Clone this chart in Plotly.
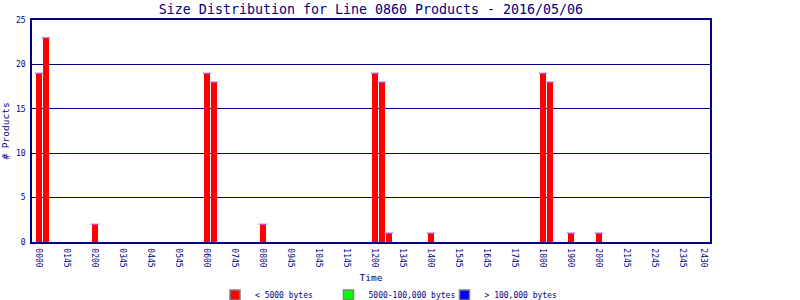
import plotly.graph_objects as go

# ---- data ----
times = ["0000", "0015", "0200", "0600", "0615", "0800", "1200", "1215", "1230",
         "1400", "1800", "1815", "1900", "2000"]
small = [19, 23, 2, 19, 18, 2, 19, 18, 1, 1, 19, 18, 1, 1]      # < 5000 bytes
medium = [0] * len(times)                                       # 5000-100,000 bytes
large = [0] * len(times)                                        # > 100,000 bytes
tick_labels = ["0000", "0145", "0200", "0345", "0445", "0545", "0600", "0745", "0800",
               "0945", "1045", "1145", "1200", "1345", "1400", "1545", "1645", "1745",
               "1800", "1900", "2000", "2145", "2245", "2345", "2430"]
series_names = ["< 5000 bytes", "5000-100,000 bytes", "> 100,000 bytes"]

# ---- derived ----
slots = [int(t[:2]) * 4 + int(t[2:]) // 15 for t in times]
totals = [a + b + c for a, b, c in zip(small, medium, large)]
tickvals = list(range(0, 96, 4)) + [95]

NAVY = "#000080"
FONT = "DejaVu Sans Mono"
L, R, T, B = 32, 90, 20, 58
W, H = 800, 300
pw, ph = W - L - R, H - T - B

fig = go.Figure()
fig.add_bar(x=slots, y=small, marker=dict(color="#ff0000", line=dict(width=0)),
            width=6 / 7, showlegend=False, hoverinfo="y")
fig.add_bar(x=slots, y=medium, base=small, marker=dict(color="#00ff00", line=dict(width=0)),
            width=6 / 7, showlegend=False, hoverinfo="skip")
fig.add_bar(x=slots, y=large, base=[a + b for a, b in zip(small, medium)],
            marker=dict(color="#0000ff", line=dict(width=0)),
            width=6 / 7, showlegend=False, hoverinfo="skip")
# thin blue cap on top of each bar
fig.add_scatter(x=slots, y=totals, mode="markers",
                marker=dict(symbol="line-ew-open", size=6,
                            line=dict(color="#0000ff", width=1.2)),
                showlegend=False, hoverinfo="skip")

# legend entries
colors = ["#ff0000", "#00ff00", "#0000ff"]
legend_left_px = [215, 328.5, 444.5]
for i, (name, col) in enumerate(zip(series_names, colors)):
    lg = "legend" if i == 0 else f"legend{i + 1}"
    fig.add_scatter(x=[None], y=[None], mode="markers", name=name, legend=lg,
                    marker=dict(symbol="square", size=10, color=col,
                                line=dict(color="#808080", width=1.5)))

legend_common = dict(orientation="h", font=dict(family=FONT, size=8, color=NAVY),
                     bgcolor="rgba(0,0,0,0)", borderwidth=0,
                     yanchor="middle", xanchor="left", itemwidth=30)
lay_legends = {}
for i, px in enumerate(legend_left_px):
    key = "legend" if i == 0 else f"legend{i + 1}"
    lay_legends[key] = dict(legend_common, x=(px - L) / pw, y=(H - B - 295) / ph)

fig.update_layout(
    width=W, height=H,
    margin=dict(l=L, r=R, t=T, b=B, pad=0, autoexpand=False),
    paper_bgcolor="white", plot_bgcolor="white",
    barmode="overlay", bargap=0,
    title=dict(text="Size Distribution for Line 0860 Products - 2016/05/06",
               font=dict(family=FONT, size=13.3, color=NAVY),
               x=(L + pw / 2) / W, xanchor="center", y=(H - 9) / H, yanchor="middle"),
    xaxis=dict(range=[-1, 95 + 6 / 7], tickmode="array", tickvals=tickvals,
               ticktext=tick_labels, tickangle=90, showgrid=False, zeroline=False,
               showline=True, linecolor=NAVY, linewidth=1.5, mirror=True, ticks="",
               ticklabelstandoff=3, automargin=False,
               tickfont=dict(family=FONT, size=8, color=NAVY),
               title=dict(text="Time", font=dict(family=FONT, size=9.5, color=NAVY),
                          standoff=8)),
    yaxis=dict(range=[0, 25], dtick=5, showgrid=True, gridcolor=NAVY, gridwidth=1,
               zeroline=False, showline=True, linecolor=NAVY, linewidth=1.5, mirror=True,
               ticks="", ticklabelstandoff=3, automargin=False,
               tickfont=dict(family=FONT, size=8, color=NAVY),
               title=dict(text="# Products", font=dict(family=FONT, size=9.5, color=NAVY),
                          standoff=7)),
    **lay_legends,
)

fig.write_html("out.html")
